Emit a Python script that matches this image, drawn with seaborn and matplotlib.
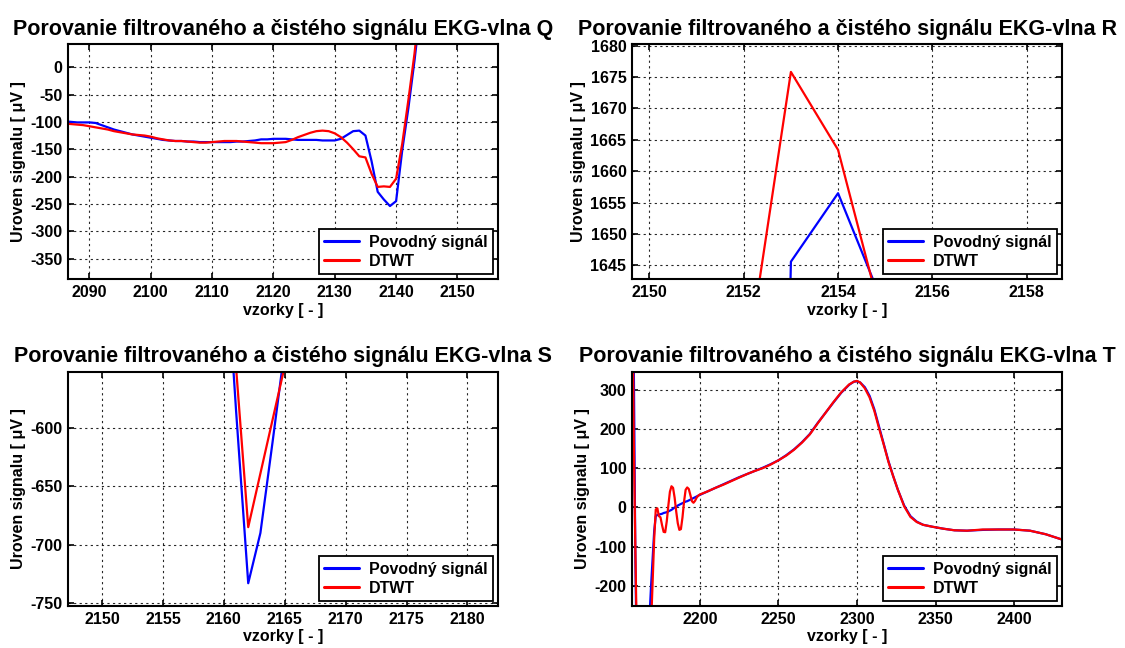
"""Porovanie filtrovaného a čistého signálu EKG (vlny Q, R, S, T)."""
import matplotlib
matplotlib.use("Agg")
import matplotlib.pyplot as plt
import numpy as np
import pandas as pd
import seaborn as sns

# --- data odčítané z obrázka ---
# vlna Q
vzorky_q = np.arange(2086, 2145)
povodny_q = [-99, -100, -101, -101, -101, -102, -106, -110, -114, -117,
             -120, -123, -125, -127, -129, -131, -133, -134, -135, -135,
             -136, -136, -137, -137, -137, -137, -137, -137, -136, -136,
             -135, -134, -132, -132, -131, -131, -131, -132, -133, -133,
             -133, -133, -134, -134, -134, -131, -124, -117, -116, -125,
             -172, -228, -242, -254, -245, -152, -75, 12, 110]
dtwt_q = [-103, -104, -105, -106, -108, -110, -112, -114, -117, -119,
          -121, -123, -124, -125, -127, -130, -132, -134, -135, -135,
          -136, -137, -138, -138, -137, -136, -135, -135, -135, -136,
          -137, -138, -139, -139, -139, -138, -137, -133, -128, -124,
          -120, -117, -116, -117, -121, -128, -138, -150, -163, -165,
          -195, -219, -218, -219, -204, -140, -60, 25, 130]

# vlna R
vzorky_r = [2152, 2153, 2154, 2155]
povodny_r = [1300, 1645.6, 1656.5, 1638]
dtwt_r = [1626, 1675.8, 1663.4, 1634.6]

# vlna S
vzorky_s = [2158, 2159, 2160, 2161, 2162, 2163, 2164, 2165, 2166]
povodny_s = [380, -120, -425, -585, -733, -690, -612, -532, -450]
dtwt_s = [177, -100, -350, -548, -685, -639, -593, -547, -490]

# vlna T
vzorky_t = list(range(2156, 2201)) + [
    2205, 2210, 2215, 2220, 2225, 2230, 2235, 2240, 2245, 2250, 2255, 2260,
    2265, 2270, 2275, 2280, 2285, 2290, 2295, 2298, 2300, 2302, 2305, 2308,
    2311, 2314, 2317, 2320, 2323, 2326, 2330, 2334, 2338, 2342, 2348, 2355,
    2362, 2370, 2380, 2390, 2400, 2410, 2420, 2430, 2435]
povodny_t = [1200, 700, 380, -120, -425, -585, -733, -690, -612, -532,
             -450, -380, -280, -200, -130, -60, -22, -19, -18, -17,
             -16, -14, -13, -12, -10, -8, -6, -3, 0, 2,
             5, 7, 9, 11, 13, 15, 16, 18, 20, 22,
             24, 26, 28, 30, 32,
             41, 50, 59, 68, 77, 85, 93, 101, 110, 120, 133, 148,
             166, 187, 215, 241, 267, 292, 312, 320, 321, 318, 306, 284,
             250, 206, 162, 118, 80, 45, 5, -22, -36, -44, -49, -54,
             -58, -59, -57, -56, -56, -59, -68, -81, -90]
dtwt_t = [1100, 650, 177, -100, -350, -548, -685, -639, -593, -547,
          -490, -430, -370, -300, -190, -80, -5, -2, -22, -25,
          -45, -62, -63, -35, 5, 40, 54, 50, 25, -10,
          -40, -57, -55, -25, 15, 45, 51, 47, 32, 16,
          12, 17, 25, 30, 33,
          41, 50, 58, 67, 76, 85, 93, 100, 109, 120, 132, 147,
          165, 186, 214, 241, 268, 293, 313, 320, 322, 318, 303, 280,
          246, 202, 160, 116, 80, 45, 3, -24, -37, -44, -49, -54,
          -58, -59, -56, -56, -56, -59, -68, -81, -90]

POVODNY = "Povodný signál"
DTWT = "DTWT"

# (vlna, x, povodny, dtwt, xlim, ylim, xticks, yticks, pozicia osi)
panely = [
    ("Q", vzorky_q, povodny_q, dtwt_q, (2086.5, 2156.6), (-388, 42),
     np.arange(2090, 2151, 10), np.arange(-350, 1, 50), [0.0604, 0.569, 0.3822, 0.3627]),
    ("R", vzorky_r, povodny_r, dtwt_r, (2149.63, 2158.75), (1642.8, 1680.2),
     np.arange(2150, 2159, 2), np.arange(1645, 1681, 5), [0.5618, 0.569, 0.3822, 0.3627]),
    ("S", vzorky_s, povodny_s, dtwt_s, (2147.2, 2182.5), (-752.5, -552.2),
     np.arange(2150, 2181, 5), np.arange(-750, -599, 50), [0.0604, 0.0648, 0.3822, 0.3611]),
    ("T", vzorky_t, povodny_t, dtwt_t, (2156.9, 2430.4), (-250.6, 344.6),
     np.arange(2200, 2401, 50), np.arange(-200, 301, 100), [0.5618, 0.0648, 0.3822, 0.3611]),
]

sns.set_style("ticks")
plt.rcParams["font.family"] = ["Liberation Sans", "DejaVu Sans"]
plt.rcParams.update({
    "font.weight": "bold",
    "text.color": "black",
    "axes.labelcolor": "black",
    "axes.titlecolor": "black",
    "axes.unicode_minus": False,
    "xtick.direction": "in", "ytick.direction": "in",
    "xtick.top": True, "ytick.right": True,
    "xtick.major.size": 4, "ytick.major.size": 4,
    "xtick.major.width": 1.2, "ytick.major.width": 1.2,
    "xtick.color": "black", "ytick.color": "black",
    "axes.edgecolor": "black", "axes.linewidth": 1.5,
})

fig = plt.figure(figsize=(11.25, 6.48), dpi=100)

for vlna, x, povodny, dtwt, xlim, ylim, xticks, yticks, pos in panely:
    ax = fig.add_axes(pos)
    df = pd.DataFrame({
        "vzorky": np.concatenate([x, x]),
        "uroven": np.concatenate([povodny, dtwt]),
        "signal": [POVODNY] * len(x) + [DTWT] * len(x),
    })
    sns.lineplot(data=df, x="vzorky", y="uroven", hue="signal",
                 palette={POVODNY: "#0000ff", DTWT: "#ff0000"},
                 estimator=None, sort=False, linewidth=1.6, ax=ax)
    ax.set_xlim(*xlim)
    ax.set_ylim(*ylim)
    ax.set_xticks(xticks)
    ax.set_yticks(yticks)
    ax.tick_params(labelsize=11.5, pad=4)
    ax.grid(True, color="black", linestyle=(0, (2, 3)), linewidth=0.8, alpha=0.85)
    ax.set_title(f"Porovanie filtrovaného a čistého signálu EKG-vlna {vlna}",
                 fontsize=15.5, fontweight="bold", color="black", pad=7)
    ax.set_xlabel("vzorky [ - ]", fontsize=11.5, fontweight="bold", labelpad=2)
    ax.set_ylabel("Uroven signalu [ μV ]", fontsize=11.5, fontweight="bold", labelpad=3)

    sns.move_legend(ax, "lower right", title=None, frameon=True, fancybox=False,
                    edgecolor="black", framealpha=1,
                    prop={"size": 11.5, "weight": "bold"},
                    borderaxespad=0.3, handlelength=2.2, handletextpad=0.6,
                    borderpad=0.35, labelspacing=0.25)
    leg = ax.get_legend()
    leg.get_frame().set_linewidth(1.3)
    for text in leg.get_texts():
        text.set_color("black")
    for line in leg.get_lines():
        line.set_linewidth(2.2)

fig.savefig("out.png", dpi=100)
